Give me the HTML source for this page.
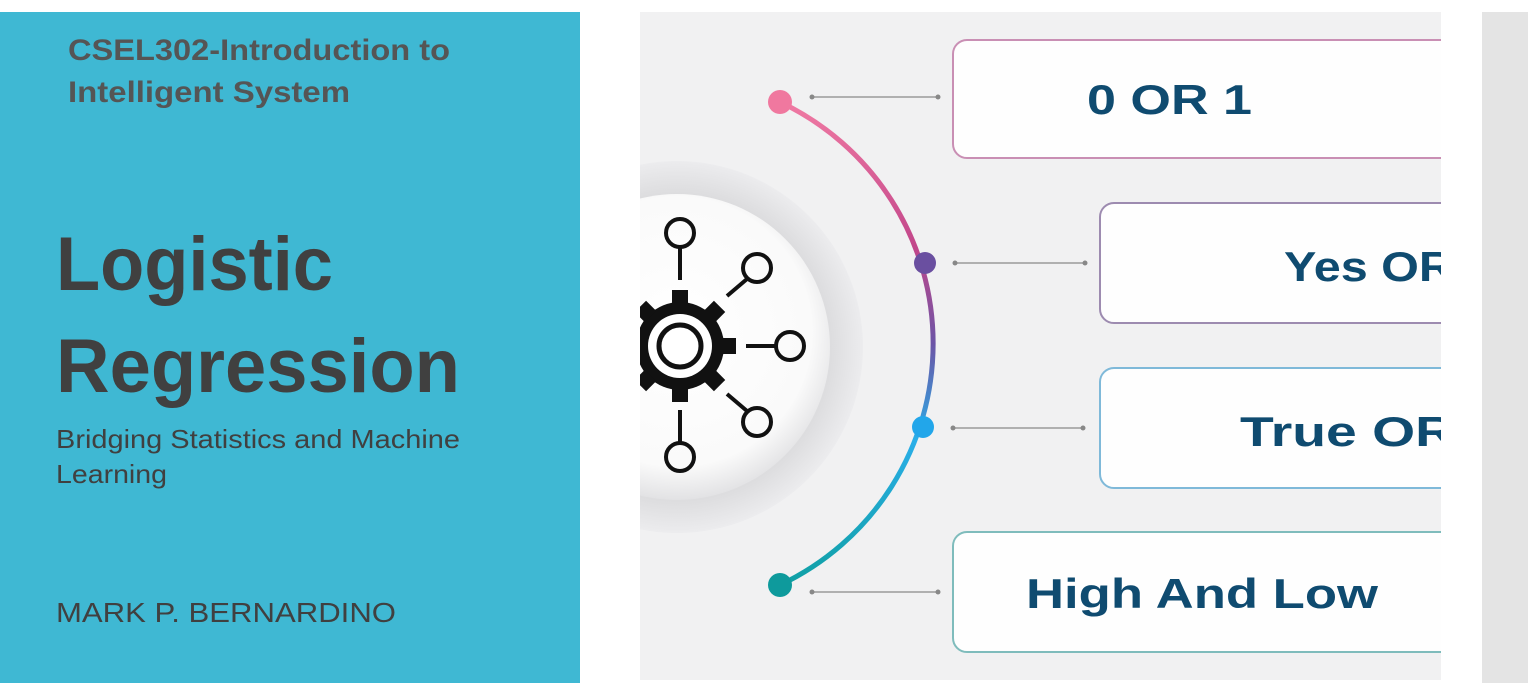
<!DOCTYPE html>
<html><head><meta charset="utf-8"><style>
html,body{margin:0;padding:0;background:#fff;width:1528px;height:693px;overflow:hidden}
svg{display:block}
text{font-family:"Liberation Sans",sans-serif}
</style></head><body>
<svg width="1528" height="693" viewBox="0 0 1528 693" xmlns="http://www.w3.org/2000/svg">
<defs>
<linearGradient id="arc" x1="0" y1="0" x2="0" y2="1">
<stop offset="0" stop-color="#f07aa3"/><stop offset="0.3" stop-color="#c2468a"/><stop offset="0.5" stop-color="#6c54a6"/><stop offset="0.7" stop-color="#2aaee8"/><stop offset="1" stop-color="#10a0a4"/>
</linearGradient>
<radialGradient id="disc" cx="0.5" cy="0.45" r="0.55">
<stop offset="0" stop-color="#ffffff"/><stop offset="0.8" stop-color="#fafafa"/><stop offset="1" stop-color="#e2e2e4"/>
</radialGradient>
<radialGradient id="ring" cx="0.5" cy="0.5" r="0.5">
<stop offset="0.75" stop-color="#d6d6d8"/><stop offset="1" stop-color="#ececee"/>
</radialGradient>
<clipPath id="img"><rect x="640" y="12" width="801" height="668"/></clipPath>
</defs>
<rect x="0" y="12" width="580" height="671" fill="#3fb8d3"/>
<text x="68" y="60" font-size="30" font-weight="bold" fill="#555" textLength="382" lengthAdjust="spacingAndGlyphs">CSEL302-Introduction to</text>
<text x="68" y="102" font-size="30" font-weight="bold" fill="#555" textLength="282" lengthAdjust="spacingAndGlyphs">Intelligent System</text>
<text x="56" y="290" font-size="76" font-weight="bold" fill="#404040" textLength="277" lengthAdjust="spacingAndGlyphs">Logistic</text>
<text x="56" y="392" font-size="76" font-weight="bold" fill="#404040" textLength="404" lengthAdjust="spacingAndGlyphs">Regression</text>
<text x="56" y="448" font-size="26" fill="#404040" textLength="404" lengthAdjust="spacingAndGlyphs">Bridging Statistics and Machine</text>
<text x="56" y="483" font-size="26" fill="#404040" textLength="111" lengthAdjust="spacingAndGlyphs">Learning</text>
<text x="56" y="622" font-size="28" fill="#404040" textLength="340" lengthAdjust="spacingAndGlyphs">MARK P. BERNARDINO</text>

<rect x="1482" y="12" width="46" height="671" fill="#e4e4e4"/>

<g clip-path="url(#img)">
<rect x="640" y="12" width="801" height="668" fill="#f1f1f2"/>
<circle cx="677" cy="347" r="186" fill="url(#ring)"/>
<circle cx="677" cy="347" r="153" fill="url(#disc)"/>
<!-- gear icon -->
<g stroke="#111" stroke-width="4" fill="none">
<line x1="680" y1="246" x2="680" y2="280"/>
<line x1="680" y1="410" x2="680" y2="444"/>
<line x1="727" y1="296" x2="747" y2="279"/>
<line x1="727" y1="394" x2="747" y2="411"/>
<line x1="746" y1="346" x2="776" y2="346"/>
<circle cx="680" cy="233" r="14"/>
<circle cx="680" cy="457" r="14"/>
<circle cx="757" cy="268" r="14"/>
<circle cx="757" cy="422" r="14"/>
<circle cx="790" cy="346" r="14"/>
</g>
<g fill="#111">
<circle cx="680" cy="346" r="44"/>
<g>
<rect x="672" y="290" width="16" height="14"/><rect x="672" y="388" width="16" height="14"/>
<rect x="722" y="338" width="14" height="16"/><rect x="624" y="338" width="14" height="16"/>
<rect x="672" y="290" width="16" height="14" transform="rotate(45 680 346)"/><rect x="672" y="290" width="16" height="14" transform="rotate(-45 680 346)"/>
<rect x="672" y="388" width="16" height="14" transform="rotate(45 680 346)"/><rect x="672" y="388" width="16" height="14" transform="rotate(-45 680 346)"/>
</g>
</g>
<circle cx="680" cy="346" r="32" fill="#fff"/>
<circle cx="680" cy="346" r="21" fill="none" stroke="#111" stroke-width="5"/>

<!-- arc -->
<path d="M780 102 A267 267 0 0 1 780 585" fill="none" stroke="url(#arc)" stroke-width="5"/>
<circle cx="780" cy="102" r="12" fill="#f0789f"/>
<circle cx="925" cy="263" r="11" fill="#6a4fa0"/>
<circle cx="923" cy="427" r="11" fill="#22a6ea"/>
<circle cx="780" cy="585" r="12" fill="#0e9a9c"/>

<!-- connectors -->
<g stroke="#9a9a9a" stroke-width="1.5">
<line x1="812" y1="97" x2="938" y2="97"/>
<line x1="955" y1="263" x2="1085" y2="263"/>
<line x1="953" y1="428" x2="1083" y2="428"/>
<line x1="812" y1="592" x2="938" y2="592"/>
</g>
<g fill="#888">
<circle cx="812" cy="97" r="2.5"/><circle cx="938" cy="97" r="2.5"/>
<circle cx="955" cy="263" r="2.5"/><circle cx="1085" cy="263" r="2.5"/>
<circle cx="953" cy="428" r="2.5"/><circle cx="1083" cy="428" r="2.5"/>
<circle cx="812" cy="592" r="2.5"/><circle cx="938" cy="592" r="2.5"/>
</g>

<!-- boxes -->
<rect x="953" y="40" width="560" height="118" rx="14" fill="#fefefe" stroke="#c98fb4" stroke-width="2"/>
<rect x="1100" y="203" width="420" height="120" rx="14" fill="#fefefe" stroke="#9d8bb0" stroke-width="2"/>
<rect x="1100" y="368" width="420" height="120" rx="14" fill="#fefefe" stroke="#7fb9d9" stroke-width="2"/>
<rect x="953" y="532" width="560" height="120" rx="14" fill="#fefefe" stroke="#7fbcbc" stroke-width="2"/>
<g font-weight="bold" fill="#0f4b70" font-size="42">
<text x="1087" y="114" textLength="165" lengthAdjust="spacingAndGlyphs">0 OR 1</text>
<text x="1284" y="281" textLength="170" lengthAdjust="spacingAndGlyphs">Yes OR</text>
<text x="1240" y="446" textLength="215" lengthAdjust="spacingAndGlyphs">True OR</text>
<text x="1026" y="608" textLength="352" lengthAdjust="spacingAndGlyphs">High And Low</text>
</g>
</g>
</svg>
</body></html>
